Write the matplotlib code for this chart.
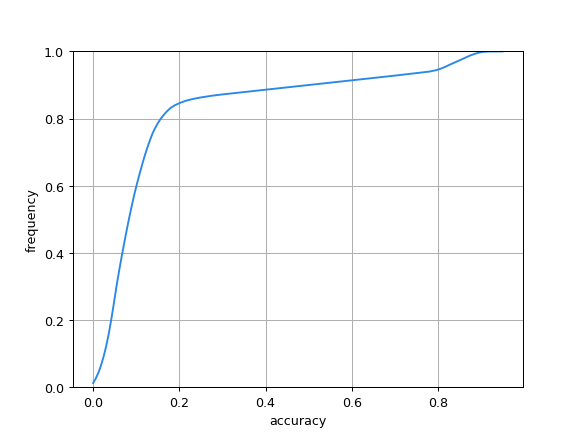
import matplotlib
matplotlib.use('Agg')
import matplotlib.pyplot as plt

accuracy = [0.0, 0.006, 0.012, 0.018, 0.024, 0.03, 0.036, 0.042, 0.048, 0.054, 0.06,
            0.066, 0.072, 0.078, 0.084, 0.09, 0.096, 0.102, 0.108, 0.114, 0.12, 0.126,
            0.132, 0.138, 0.144, 0.15, 0.156, 0.162, 0.17, 0.18, 0.19, 0.202, 0.215,
            0.23, 0.25, 0.275, 0.3, 0.4, 0.5, 0.6, 0.7, 0.76, 0.78, 0.795, 0.805, 0.815,
            0.83, 0.851, 0.875, 0.888, 0.897, 0.907, 0.92, 0.95]
frequency = [0.012, 0.025, 0.042, 0.063, 0.089, 0.12, 0.157, 0.2, 0.248, 0.298, 0.344,
             0.387, 0.428, 0.468, 0.506, 0.542, 0.576, 0.607, 0.636, 0.664, 0.69, 0.714,
             0.736, 0.756, 0.772, 0.786, 0.798, 0.808, 0.82, 0.832, 0.84, 0.847, 0.853,
             0.858, 0.863, 0.868, 0.872, 0.886, 0.9, 0.914, 0.928, 0.937, 0.94, 0.944, 0.948, 0.953,
             0.962, 0.974, 0.988, 0.994, 0.997, 0.999, 1.0, 1.0]

fig = plt.figure(figsize=(6.4, 4.8), dpi=90.8)
plt.plot(accuracy, frequency, color='#2a88e6', lw=1.5)
plt.ylim(0, 1)
plt.grid(True)
plt.xlabel('accuracy')
plt.ylabel('frequency')
plt.savefig('out.png')
